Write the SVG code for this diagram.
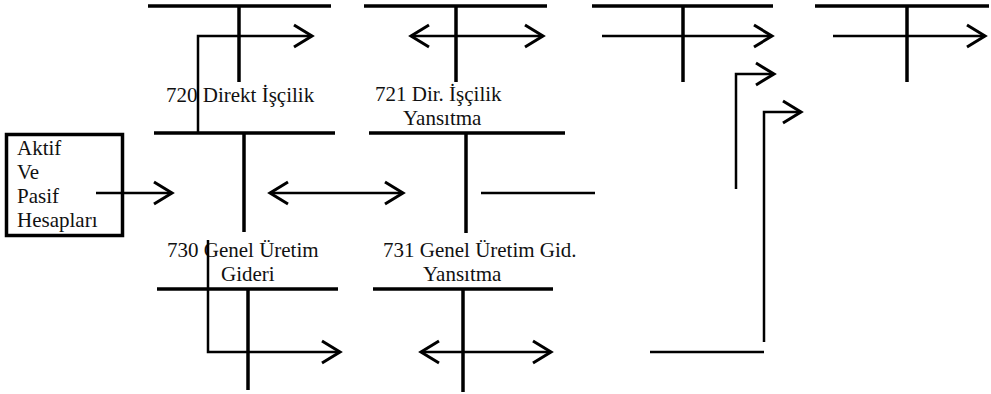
<svg xmlns="http://www.w3.org/2000/svg" width="991" height="394" viewBox="0 0 991 394">
  <style>
    .bar { stroke: #000; stroke-width: 3.5; fill: none; }
    .box { stroke: #000; stroke-width: 3.5; fill: #fff; }
    .flow { stroke: #000; stroke-width: 2.5; fill: none; }
    .lbl { font-family: "Liberation Serif", "Times New Roman", serif; font-size: 21px; fill: #111; }
  </style>
  <defs>
    <marker id="head" markerUnits="userSpaceOnUse" viewBox="-24 -15 30 30" markerWidth="30" markerHeight="30" refX="0" refY="0" orient="auto-start-reverse">
      <path d="M-18,-11 L0,0 L-18,11" fill="none" stroke="#000" stroke-width="3"/>
    </marker>
  </defs>
  <rect width="991" height="394" fill="#fff"/>

  <!-- T-accounts, top row -->
  <g id="t720">
    <line class="bar" x1="148" y1="6" x2="331" y2="6"/>
    <line class="bar" x1="239" y1="6" x2="239" y2="82"/>
    <text class="lbl" x="166" y="102">720 Direkt İşçilik</text>
  </g>
  <g id="t721">
    <line class="bar" x1="364" y1="6" x2="547" y2="6"/>
    <line class="bar" x1="456" y1="6" x2="456" y2="82"/>
    <text class="lbl" x="375" y="101">721 Dir. İşçilik</text>
    <text class="lbl" x="403" y="125">Yansıtma</text>
  </g>
  <g id="t-right1">
    <line class="bar" x1="592" y1="6" x2="773" y2="6"/>
    <line class="bar" x1="683" y1="6" x2="683" y2="82"/>
  </g>
  <g id="t-right2">
    <line class="bar" x1="815" y1="6" x2="989" y2="6"/>
    <line class="bar" x1="907" y1="6" x2="907" y2="82"/>
  </g>

  <!-- Source box -->
  <g id="aktif-pasif">
    <rect class="box" x="6.5" y="134.5" width="116" height="101"/>
    <text class="lbl" x="17" y="155">Aktif</text>
    <text class="lbl" x="17" y="179">Ve</text>
    <text class="lbl" x="17" y="203">Pasif</text>
    <text class="lbl" x="17" y="227">Hesapları</text>
  </g>

  <!-- T-accounts, middle row -->
  <g id="t730">
    <line class="bar" x1="154" y1="133" x2="335" y2="133"/>
    <line class="bar" x1="244" y1="133" x2="244" y2="232"/>
    <text class="lbl" x="167" y="257">730 Genel Üretim</text>
    <text class="lbl" x="221" y="281">Gideri</text>
  </g>
  <g id="t731">
    <line class="bar" x1="369" y1="133" x2="565" y2="133"/>
    <line class="bar" x1="466" y1="133" x2="466" y2="233"/>
    <text class="lbl" x="383" y="257">731 Genel Üretim Gid.</text>
    <text class="lbl" x="423" y="281">Yansıtma</text>
  </g>

  <!-- T-accounts, bottom row -->
  <g id="t730-lower">
    <line class="bar" x1="157" y1="289" x2="338" y2="289"/>
    <line class="bar" x1="248" y1="289" x2="248" y2="390"/>
  </g>
  <g id="t731-lower">
    <line class="bar" x1="373" y1="289" x2="553" y2="289"/>
    <line class="bar" x1="463" y1="289" x2="463" y2="392"/>
  </g>

  <!-- Flows between accounts -->
  <g id="connectors">
    <polyline class="flow" points="198,133 198,36 312,36" marker-end="url(#head)"/>
    <line class="flow" x1="411" y1="36" x2="543" y2="36" marker-start="url(#head)" marker-end="url(#head)"/>
    <line class="flow" x1="602" y1="36" x2="772" y2="36" marker-end="url(#head)"/>
    <line class="flow" x1="833" y1="36" x2="985" y2="36" marker-end="url(#head)"/>
    <polyline class="flow" points="736,189 736,74 774,74" marker-end="url(#head)"/>
    <polyline class="flow" points="764,342 764,112 801,112" marker-end="url(#head)"/>
    <line class="flow" x1="96" y1="193" x2="172" y2="193" marker-end="url(#head)"/>
    <line class="flow" x1="270" y1="193" x2="403" y2="193" marker-start="url(#head)" marker-end="url(#head)"/>
    <line class="flow" x1="481" y1="193" x2="595" y2="193"/>
    <polyline class="flow" points="208,240 208,352 340,352" marker-end="url(#head)"/>
    <line class="flow" x1="421" y1="352" x2="551" y2="352" marker-start="url(#head)" marker-end="url(#head)"/>
    <line class="flow" x1="650" y1="352" x2="764" y2="352"/>
  </g>
</svg>
